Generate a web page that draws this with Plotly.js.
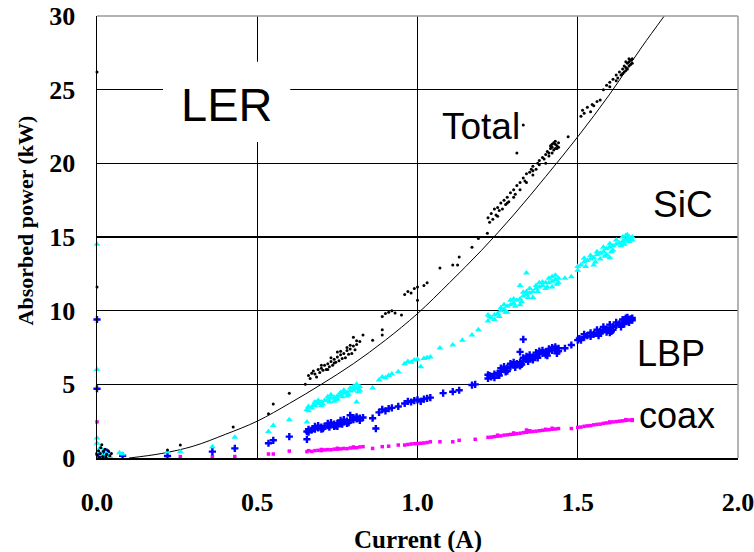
<!DOCTYPE html>
<html>
<head>
<meta charset="utf-8">
<script src="https://cdn.plot.ly/plotly-3.0.1.min.js"></script>
<style>html,body{margin:0;padding:0;background:#fff;}#chart{width:754px;height:552px;}</style>
</head>
<body>
<div id="chart"></div>
<script>
// Fitted curve
const fitPts = [[0.10,0.0],[0.2,0.3],[0.3,0.8],[0.4,1.6],[0.5,2.5],[0.6,3.7],[0.7,5.0],[0.8,6.4],[0.9,8.0],[1.0,9.8],[1.1,11.9],[1.2,14.1],[1.3,16.5],[1.4,19.1],[1.5,21.8],[1.6,24.7],[1.7,27.9],[1.77,30.0]];

// Total (black)
const totalPts = [[0.0,0.2],[0.005,0.5],[0.01,0.3],[0.012,0.7],[0.018,0.1],[0.02,0.45],[0.025,0.6],[0.03,0.25],[0.035,0.5],[0.04,0.15],[0.015,0.9],[0.008,0.05],[0.045,0.3],[0.028,0.05],
[0,11.6],[0,26.2],[0.22,0.54],[0.26,0.88],[0.425,2.1],[0.535,3.0],[0.55,3.66],[0.6,4.4],[0.65,5.0],
[0.66,5.6],[0.67,5.75],[0.675,5.9],[0.68,5.7],[0.69,6.0],[0.70,6.1],[0.705,5.95],[0.71,6.3],[0.72,6.4],[0.725,6.2],[0.73,6.55],[0.74,6.7],[0.745,6.5],[0.75,6.85],[0.76,7.0],[0.765,6.75],[0.77,7.1],[0.78,7.3],[0.785,7.05],[0.79,7.4],[0.80,7.6],[0.805,7.35],[0.81,7.7],[0.82,7.9],[0.72,6.0],[0.75,7.2],[0.80,8.2],[0.83,8.35],[0.86,8.0],[0.89,8.7],[0.89,8.35],
[0.665,5.4],[0.685,5.5],[0.695,5.8],[0.715,6.0],[0.735,6.3],[0.755,6.6],[0.775,6.8],[0.795,7.1],[0.70,6.3],[0.73,6.8],[0.76,7.25],[0.79,7.65],[0.81,7.95],[0.74,6.45],[0.78,7.5],
[0.89,9.6],[0.90,9.8],[0.91,9.9],[0.92,10.0],[0.93,9.85],[0.95,9.7],[0.96,11.1],[0.97,11.3],[0.98,11.2],[0.99,11.5],[1.0,11.6],[1.02,11.7],[1.03,11.9],[1.0,10.7],[1.07,12.9],[1.11,13.1],[1.125,13.1],[1.13,13.65],[1.17,14.3],[1.19,14.9],[1.218,15.25],
[1.22,16.3],[1.23,16.6],[1.235,16.2],[1.24,16.9],[1.25,17.0],[1.255,16.8],[1.26,17.3],[1.27,17.5],[1.275,17.2],[1.28,17.7],[1.29,18.0],[1.30,18.2],[1.305,17.9],[1.31,18.5],[1.32,18.7],[1.33,19.0],[1.335,18.8],[1.34,19.3],[1.35,19.4],[1.355,19.6],[1.36,19.8],[1.37,19.6],[1.375,20.0],[1.38,20.2],[1.39,20.4],[1.395,20.3],[1.40,20.6],[1.405,20.8],[1.41,20.7],[1.415,21.0],[1.42,21.1],[1.425,20.9],[1.43,21.3],[1.435,21.2],[1.44,21.4],[1.42,21.3],[1.41,20.5],[1.43,21.0],[1.40,20.0],[1.36,19.2],[1.31,20.7],[1.33,22.6],[1.47,21.8],[1.25,16.4],[1.28,17.3],
[1.225,16.0],[1.245,16.5],[1.265,16.9],[1.285,17.4],[1.30,17.7],[1.32,18.2],[1.34,18.7],[1.36,19.5],[1.38,19.9],[1.42,20.7],[1.425,21.4],[1.43,21.5],[1.44,21.1],[1.415,21.2],[1.435,21.0],
[1.51,23.2],[1.515,23.6],[1.52,23.4],[1.53,23.8],[1.54,23.5],[1.545,24.0],[1.55,23.9],[1.56,24.2],[1.57,24.3],[1.58,25.0],[1.59,25.3],[1.60,25.5],[1.61,25.7],[1.62,26.0],[1.625,25.8],[1.63,26.2],[1.64,26.4],[1.645,26.6],[1.65,26.5],[1.655,26.8],[1.66,26.9],[1.665,27.0],[1.67,27.1],[1.64,26.1],[1.65,26.3],[1.66,26.6],
[1.635,26.0],[1.645,26.2],[1.655,26.4],[1.665,26.7],[1.66,27.1],[1.67,26.8],[1.65,26.9],[1.62,25.6],[1.60,25.2]];

// SiC (cyan)
const sicPts = [[0,14.5],[0,6.0],[0,1.35],[0,1.0],[0.005,0.4],[0.01,0.7],[0.015,0.2],[0.02,0.5],[0.03,0.3],[0.04,0.1],[0.07,0.36],[0.08,0.27],[0.22,0.43],[0.26,0.43],[0.36,0.77],[0.43,1.4],[0.535,1.8],[0.55,2.2],[0.60,2.6],[0.655,2.45],
[0.655,3.3],[0.66,3.5],[0.67,3.4],[0.675,3.6],[0.68,3.55],[0.69,3.7],[0.70,3.8],[0.705,3.65],[0.71,3.9],[0.72,3.95],[0.725,3.8],[0.73,4.05],[0.74,4.1],[0.745,3.95],[0.75,4.2],[0.76,4.3],[0.765,4.15],[0.77,4.4],[0.78,4.45],[0.785,4.3],[0.79,4.55],[0.80,4.6],[0.805,4.7],[0.81,4.75],[0.82,4.85],[0.815,4.5],[0.81,3.8],[0.86,4.75],
[0.66,3.2],[0.68,3.8],[0.70,3.55],[0.72,4.15],[0.74,3.85],[0.76,4.45],[0.78,4.2],[0.80,4.85],[0.82,4.6],[0.69,3.9],[0.73,4.3],[0.77,4.6],[0.81,5.0],[0.75,4.0],[0.79,4.75],
[0.88,5.3],[0.89,5.5],[0.90,5.45],[0.91,5.6],[0.92,5.7],[0.94,5.86],[0.96,6.4],[0.97,6.55],[0.98,6.5],[0.99,6.65],[1.0,6.7],[1.01,6.2],[1.02,6.75],[1.03,6.8],[1.04,6.86],[1.07,7.47],[1.11,7.67],[1.14,8.0],[1.17,8.35],[1.19,8.7],
[1.22,9.3],[1.225,9.6],[1.23,9.5],[1.24,9.7],[1.25,9.8],[1.255,9.6],[1.26,10.0],[1.27,10.1],[1.275,9.9],[1.28,10.3],[1.29,10.4],[1.30,10.5],[1.305,10.3],[1.31,10.7],[1.32,10.8],[1.325,10.6],[1.33,11.0],[1.34,11.1],[1.345,10.9],[1.35,11.2],[1.36,11.3],[1.37,11.5],[1.375,11.3],[1.38,11.6],[1.39,11.7],[1.40,11.9],[1.405,11.6],[1.41,11.9],[1.42,12.0],[1.43,12.1],[1.435,11.8],[1.44,12.2],[1.42,11.6],[1.32,11.7],[1.34,12.56],[1.48,12.3],[1.46,12.2],[1.50,12.75],
[1.22,9.7],[1.24,9.4],[1.26,10.2],[1.28,9.9],[1.30,10.8],[1.32,10.4],[1.34,11.3],[1.36,10.9],[1.38,11.9],[1.40,11.5],[1.42,12.3],[1.44,11.9],[1.43,12.4],[1.41,12.2],[1.39,11.95],[1.37,11.7],[1.35,11.5],[1.33,11.25],[1.29,10.7],[1.27,10.4],
[1.50,13.0],[1.51,13.1],[1.52,13.3],[1.525,13.0],[1.53,13.4],[1.54,13.5],[1.55,13.6],[1.555,13.3],[1.56,13.8],[1.57,13.9],[1.58,14.0],[1.585,13.7],[1.59,14.2],[1.60,14.3],[1.605,14.0],[1.61,14.4],[1.62,14.5],[1.63,14.6],[1.635,14.4],[1.64,14.7],[1.645,14.8],[1.65,14.8],[1.655,14.9],[1.66,15.0],[1.665,14.9],[1.67,15.0],[1.60,13.6],[1.55,13.1],
[1.64,15.0],[1.65,15.1],[1.66,14.7],[1.67,14.8],[1.655,15.15],[1.645,14.5],[1.62,14.8],[1.60,14.55],[1.58,14.3],[1.56,14.0],[1.54,13.75],[1.52,13.55],[1.57,13.5],[1.59,13.8],[1.61,14.1]];

// LBP (blue)
const lbpPts = [[0,9.4],[0,4.7],[0.005,0.3],[0.02,0.15],[0.03,0.4],[0.08,0.15],[0.22,0.14],[0.36,0.43],[0.43,0.65],[0.535,1.0],[0.55,1.2],[0.60,1.45],[0.655,1.27],
[0.655,1.8],[0.66,1.95],[0.67,1.9],[0.675,2.0],[0.68,1.95],[0.69,2.05],[0.70,2.1],[0.705,2.0],[0.71,2.15],[0.72,2.2],[0.725,2.1],[0.73,2.25],[0.74,2.3],[0.745,2.2],[0.75,2.35],[0.76,2.4],[0.765,2.3],[0.77,2.45],[0.78,2.5],[0.785,2.4],[0.79,2.55],[0.80,2.6],[0.81,2.65],[0.82,2.7],[0.83,2.75],[0.79,2.9],[0.87,2.0],[0.86,2.7],
[0.66,1.75],[0.68,2.15],[0.70,1.95],[0.72,2.35],[0.74,2.15],[0.76,2.55],[0.78,2.35],[0.80,2.75],[0.82,2.55],[0.69,2.2],[0.73,2.4],[0.77,2.6],[0.81,2.8],[0.75,2.15],
[0.88,3.1],[0.89,3.3],[0.90,3.2],[0.91,3.35],[0.92,3.4],[0.94,3.5],[0.96,3.7],[0.97,3.85],[0.98,3.8],[0.99,3.9],[1.0,3.95],[1.01,3.85],[1.02,4.0],[1.03,4.05],[1.04,4.1],[1.08,4.4],[1.11,4.5],[1.13,4.6],[1.17,4.95],[1.18,5.0],
[1.22,5.4],[1.225,5.6],[1.23,5.5],[1.24,5.7],[1.25,5.75],[1.255,5.6],[1.26,5.9],[1.27,6.0],[1.275,5.85],[1.28,6.1],[1.29,6.2],[1.30,6.3],[1.305,6.15],[1.31,6.4],[1.32,6.5],[1.325,6.35],[1.33,6.6],[1.34,6.7],[1.345,6.55],[1.35,6.8],[1.36,6.85],[1.37,7.0],[1.375,6.8],[1.38,7.05],[1.39,7.1],[1.40,7.2],[1.405,6.95],[1.41,7.25],[1.42,7.3],[1.43,7.35],[1.435,7.1],[1.44,7.45],[1.33,8.05],[1.32,7.2],[1.46,7.45],[1.48,7.67],[1.50,8.0],
[1.22,5.65],[1.24,5.45],[1.26,6.1],[1.28,5.9],[1.30,6.5],[1.32,6.25],[1.34,6.9],[1.36,6.65],[1.38,7.25],[1.40,7.0],[1.42,7.5],[1.44,7.25],[1.43,7.55],[1.41,7.4],[1.39,7.3],[1.37,7.15],[1.35,7.0],[1.33,6.8],[1.29,6.4],[1.27,6.2],
[1.505,8.1],[1.51,8.0],[1.52,8.2],[1.53,8.3],[1.54,8.25],[1.55,8.4],[1.56,8.5],[1.565,8.3],[1.57,8.6],[1.58,8.7],[1.59,8.75],[1.60,8.85],[1.605,8.6],[1.61,8.9],[1.62,9.0],[1.63,9.1],[1.635,8.9],[1.64,9.2],[1.65,9.3],[1.655,9.35],[1.66,9.4],[1.665,9.45],[1.67,9.5],[1.60,8.5],
[1.64,9.4],[1.65,9.5],[1.66,9.2],[1.67,9.35],[1.655,9.55],[1.645,9.1],[1.62,9.2],[1.60,9.05],[1.58,8.9],[1.56,8.7],[1.54,8.5],[1.52,8.4],[1.57,8.45],[1.59,8.55],[1.61,8.7]];

// coax (magenta)
const coaxPts = [[0,2.45],[0.005,0.1],[0.01,0.05],[0.26,0.1],[0.36,0.1],[0.43,0.1],[0.535,0.27],[0.55,0.27],[0.60,0.47],
[0.655,0.43],[0.66,0.5],[0.67,0.45],[0.68,0.5],[0.69,0.52],[0.70,0.5],[0.71,0.55],[0.72,0.57],[0.73,0.56],[0.74,0.6],[0.75,0.6],[0.76,0.62],[0.77,0.65],[0.78,0.63],[0.79,0.68],[0.80,0.7],[0.81,0.7],[0.82,0.75],[0.83,0.77],[0.86,0.65],[0.89,0.77],[0.91,0.8],[0.94,0.88],[0.96,0.88],[0.97,0.92],[0.98,0.95],[0.99,0.97],[1.0,0.98],[1.01,1.0],[1.02,1.02],[1.03,1.05],[1.04,1.1],[1.07,1.1],[1.11,1.1],[1.13,1.2],[1.18,1.27],
[0.70,0.58],[0.75,0.66],[0.80,0.75],
[1.22,1.4],[1.23,1.42],[1.24,1.45],[1.25,1.48],[1.26,1.5],[1.27,1.55],[1.28,1.57],[1.29,1.6],[1.30,1.62],[1.31,1.65],[1.32,1.68],[1.33,1.72],[1.34,1.75],[1.35,1.78],[1.36,1.8],[1.37,1.82],[1.38,1.85],[1.39,1.88],[1.40,1.9],[1.41,1.92],[1.42,1.95],[1.43,1.97],[1.44,2.0],[1.34,1.9],[1.48,2.0],
[1.25,1.55],[1.30,1.7],[1.35,1.85],[1.40,1.95],[1.42,2.02],
[1.50,2.08],[1.51,2.1],[1.52,2.15],[1.53,2.18],[1.54,2.2],[1.55,2.25],[1.56,2.28],[1.57,2.3],[1.58,2.35],[1.59,2.38],[1.60,2.4],[1.61,2.45],[1.62,2.47],[1.63,2.5],[1.64,2.52],[1.65,2.55],[1.66,2.58],[1.67,2.6],
[1.60,2.45],[1.65,2.6],[1.67,2.55]];

const seriesLabels = ['LER','Total','SiC','LBP','coax'];
const xTitle = 'Current (A)';
const yTitle = 'Absorbed power (kW)';

const xs = p => p.map(d => d[0]);
const ys = p => p.map(d => d[1]);

const traces = [
  {x: xs(fitPts), y: ys(fitPts), mode:'lines', line:{color:'#000', width:1, shape:'spline'}, hoverinfo:'skip'},
  {x: xs(coaxPts), y: ys(coaxPts), mode:'markers', marker:{symbol:'square', size:3.5, color:'#FF00FF'}, cliponaxis:false},
  {x: xs(lbpPts), y: ys(lbpPts), mode:'markers', marker:{symbol:'cross', size:6, color:'#0000FF'}, cliponaxis:false},
  {x: xs(sicPts), y: ys(sicPts), mode:'markers', marker:{symbol:'triangle-up', size:6, color:'#00FFFF'}, cliponaxis:false},
  {x: xs(totalPts), y: ys(totalPts), mode:'markers', marker:{symbol:'circle', size:3, color:'#000'}, cliponaxis:false}
];

const tickFont = {family:'Liberation Serif, Times New Roman, serif', size:26, color:'#000', weight:'bold'};
const labFont = s => ({family:'Liberation Sans, Arial, sans-serif', size:s, color:'#000'});

const layout = {
  width:754, height:552,
  margin:{l:97, r:16, t:16, b:94},
  paper_bgcolor:'#fff', plot_bgcolor:'#fff',
  showlegend:false,
  xaxis:{range:[0,2], tick0:0, dtick:0.5, tickformat:'.1f', showgrid:true, gridcolor:'#000', gridwidth:1.3,
         zeroline:false, showline:true, linecolor:'#000', linewidth:1.5, ticks:'outside', ticklen:20,
         tickcolor:'rgba(0,0,0,0)', tickfont:tickFont, ticklabeloverflow:'allow', fixedrange:true},
  yaxis:{range:[0,30], tick0:0, dtick:5, showgrid:true, gridcolor:'#000', gridwidth:1.3,
         zeroline:false, showline:true, linecolor:'#000', linewidth:1.5, ticks:'outside', ticklen:15,
         tickcolor:'rgba(0,0,0,0)', tickfont:tickFont, ticklabeloverflow:'allow', fixedrange:true},
  shapes:[
    {type:'rect', xref:'x', yref:'y', x0:0.206, x1:0.603, y0:21.45, y1:26.9, fillcolor:'#fff', line:{width:0}, layer:'above'},
    {type:'line', xref:'paper', yref:'paper', x0:0, x1:1, y0:1, y1:1, line:{color:'#9a9a9a', width:1.5}, layer:'above'},
    {type:'line', xref:'paper', yref:'paper', x0:1, x1:1, y0:0, y1:1, line:{color:'#9a9a9a', width:1.5}, layer:'above'}
  ],
  annotations:[
    {text:seriesLabels[0], x:0.403, y:24.0, xref:'x', yref:'y', showarrow:false, font:labFont(47)},
    {text:seriesLabels[1], x:1.197, y:22.47, xref:'x', yref:'y', showarrow:false, font:labFont(37)},
    {text:seriesLabels[2], x:1.827, y:17.2, xref:'x', yref:'y', showarrow:false, font:labFont(37)},
    {text:seriesLabels[3], x:1.79, y:7.06, xref:'x', yref:'y', showarrow:false, font:labFont(36)},
    {text:seriesLabels[4], x:1.811, y:2.88, xref:'x', yref:'y', showarrow:false, font:labFont(36)},
    {text:yTitle, xref:'paper', yref:'paper', x:-0.112, y:0.538, xanchor:'center', yanchor:'middle', textangle:-90, showarrow:false,
     font:{family:'Liberation Serif, Times New Roman, serif', size:22, color:'#000', weight:'bold'}},
    {text:xTitle, xref:'paper', yref:'paper', x:0.5, y:-0.186, xanchor:'center', yanchor:'middle', showarrow:false,
     font:{family:'Liberation Serif, Times New Roman, serif', size:25, color:'#000', weight:'bold'}}
  ]
};

Plotly.newPlot('chart', traces, layout, {displayModeBar:false, staticPlot:true});
</script>
</body>
</html>
